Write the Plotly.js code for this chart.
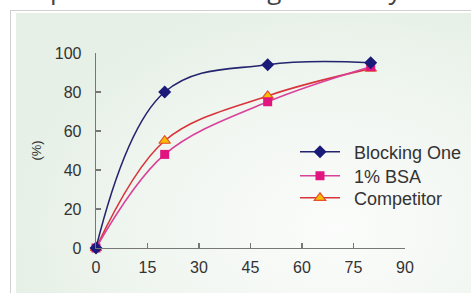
<!DOCTYPE html>
<html>
<head>
<meta charset="utf-8">
<script src="https://cdn.plot.ly/plotly-3.0.1.min.js"></script>
<style>
html,body{margin:0;padding:0;background:#fff;overflow:hidden;}
#wrap{position:relative;width:471px;height:293px;overflow:hidden;background:#fff;}
#frame{position:absolute;left:10px;top:10px;width:470px;height:300px;border:1.5px solid #d0d0d0;background:#fff;}
#panel{position:absolute;left:16px;top:13px;width:470px;height:300px;
  background:radial-gradient(ellipse 70% 80% at 68% 72%, #fbfcfb 0%, #f1f6f1 55%, #e6f0e6 100%);}
#title{position:absolute;left:-6px;top:-29px;font-family:"Open Sans",sans-serif;font-size:26px;color:#444;white-space:nowrap;}
#chart{position:absolute;left:0;top:0;width:471px;height:293px;}
</style>
</head>
<body>
<div id="wrap">
  <div id="title">Comparison of Blocking Efficiency</div>
  <div id="frame"></div>
  <div id="panel"></div>
  <div id="chart"></div>
</div>
<script>
const timeX = [0, 20, 50, 80];
const blockingOne = [0, 80, 94, 95];
const bsa1 = [0, 48, 75, 93];
const competitor = [0, 55, 78, 92];
const seriesNames = ['Blocking One', '1% BSA', 'Competitor'];
const xTicks = [0, 15, 30, 45, 60, 75, 90];
const yTicks = [0, 20, 40, 60, 80, 100];

const traces = [
  {x: timeX, y: competitor, name: '\u2002' + seriesNames[2], mode: 'lines+markers', type: 'scatter',
   line: {color: '#d8343a', width: 1.6, shape: 'spline', smoothing: 1},
   marker: {symbol: 'triangle-up', size: 10, color: '#f7bd00', line: {color: '#e8502a', width: 1.2}},
   cliponaxis: false, legend: 'legend3'},
  {x: timeX, y: bsa1, name: '\u2002' + seriesNames[1], mode: 'lines+markers', type: 'scatter',
   line: {color: '#d8409a', width: 1.6, shape: 'spline', smoothing: 1},
   marker: {symbol: 'square', size: 9, color: '#e0157f'},
   cliponaxis: false, legend: 'legend2'},
  {x: timeX, y: blockingOne, name: '\u2002' + seriesNames[0], mode: 'lines+markers', type: 'scatter',
   line: {color: '#24246e', width: 1.6, shape: 'spline', smoothing: 1.1},
   marker: {symbol: 'diamond', size: 10, color: '#1a1a78'},
   cliponaxis: false, legend: 'legend'}
];

const legFont = {family: 'Liberation Sans, Arial, sans-serif', size: 18, color: '#333'};
function leg(y) {
  return {x: 0.644, y: y, xanchor: 'left', yanchor: 'middle', font: legFont,
          bgcolor: 'rgba(0,0,0,0)', itemwidth: 40};
}
const axisFont = {family: 'Liberation Sans, Arial, sans-serif', size: 16, color: '#333'};
const layout = {
  width: 471, height: 293,
  margin: {l: 96, r: 66, t: 53, b: 45, pad: 0, autoexpand: false},
  paper_bgcolor: 'rgba(0,0,0,0)',
  plot_bgcolor: 'rgba(0,0,0,0)',
  showlegend: true,
  legend: leg(0.492),
  legend2: leg(0.369),
  legend3: leg(0.256),
  xaxis: {range: [0, 90], tickvals: xTicks, ticktext: xTicks.map(String),
          showgrid: false, zeroline: false, showline: true, linecolor: '#777', linewidth: 1.3,
          ticks: 'inside', ticklen: 5, tickcolor: '#777', tickwidth: 1.3,
          tickfont: axisFont, ticklabelstandoff: 4, fixedrange: true, automargin: false},
  yaxis: {range: [0, 100], tickvals: yTicks, ticktext: yTicks.map(String),
          showgrid: false, zeroline: false, showline: true, linecolor: '#777', linewidth: 1.3,
          ticks: 'inside', ticklen: 5, tickcolor: '#777', tickwidth: 1.3,
          tickfont: axisFont, ticklabelstandoff: 10,
          title: {text: '(%)', font: {family: 'Liberation Sans, Arial, sans-serif', size: 13, color: '#333'}, standoff: 10},
          fixedrange: true, automargin: false}
};
Plotly.newPlot('chart', traces, layout, {staticPlot: true, displayModeBar: false});
</script>
</body>
</html>
